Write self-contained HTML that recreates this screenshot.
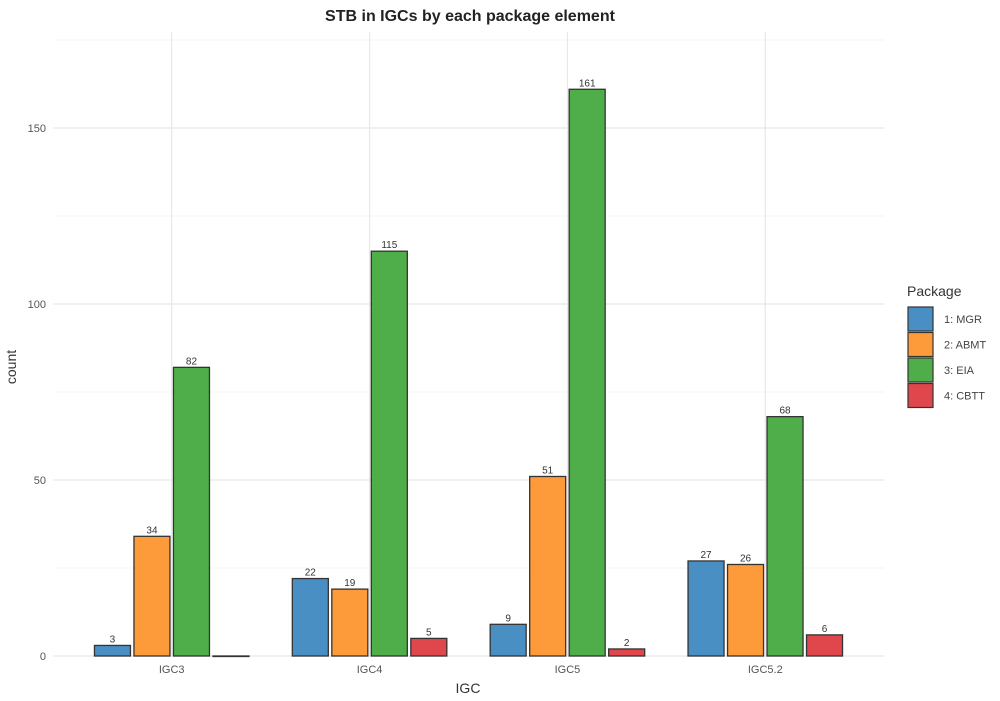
<!DOCTYPE html>
<html><head><meta charset="utf-8"><style>
body{margin:0;background:#fff;font-family:"Liberation Sans",sans-serif}
svg text{font-family:"Liberation Sans",sans-serif}
</style></head><body>
<svg id="c" width="1000" height="696" xmlns="http://www.w3.org/2000/svg">
<text x="470" y="21" text-anchor="middle" font-size="16" font-weight="bold" fill="#222">STB in IGCs by each package element</text>
<g id="grid"></g><g id="bars"></g><g id="axes"></g><g id="legend"></g>
<text x="468" y="693" text-anchor="middle" font-size="14" fill="#333">IGC</text>
<text transform="translate(16,367) rotate(-90)" text-anchor="middle" font-size="14" fill="#333">count</text>
</svg>
<script>
const categories=["IGC3","IGC4","IGC5","IGC5.2"];
const seriesNames=["1: MGR","2: ABMT","3: EIA","4: CBTT"];
const mgr=[3,22,9,27];
const abmt=[34,19,51,26];
const eia=[82,115,161,68];
const cbtt=[0,5,2,6];
const yTicks=[0,50,100,150];
const colors=["#4a8fc4","#fd9a3a","#4fae4a","#df474c"];
const series=[mgr,abmt,eia,cbtt];
const NS="http://www.w3.org/2000/svg";
const L=53,R=884,T=32,B=656;
const y=v=>B-v*3.52;
const step=(R-L)/(categories.length+0.2);
const x=i=>L+step*(0.6+i);
function mk(tag,a,p){const e=document.createElementNS(NS,tag);for(const k in a)e.setAttribute(k,a[k]);p.appendChild(e);return e;}
const g=document.getElementById('grid'),b=document.getElementById('bars'),ax=document.getElementById('axes'),lg=document.getElementById('legend');
for(let t=0;t<=175;t+=25){const ln=mk('line',{x1:L,x2:R,y1:y(t),y2:y(t),stroke:t%50?'#f3f3f3':'#e8e8e8','stroke-width':t%50?0.8:1.2},g);

}
categories.forEach((c,i)=>{const ln=mk('line',{x1:x(i),x2:x(i),y1:T,y2:B,stroke:'#e8e8e8','stroke-width':1.2},g);


const t=mk('text',{x:x(i),y:B+17,'text-anchor':'middle','font-size':11,fill:'#555'},ax);t.textContent=c;

});
yTicks.forEach(v=>{const t=mk('text',{x:46,y:y(v)+4,'text-anchor':'end','font-size':11,fill:'#555'},ax);t.textContent=v;

});
const bw=36,gap=3.5;
categories.forEach((c,i)=>{series.forEach((s,j)=>{const cx=x(i)+(j-1.5)*(bw+gap);const v=s[i];
const r=mk('rect',{x:cx-bw/2,y:y(v),width:bw,height:Math.max(B-y(v),0.5),fill:colors[j],stroke:'#333','stroke-width':1.3},b);


if(v>0){const t=mk('text',{x:cx,y:y(v)-3,'text-anchor':'middle','font-size':10,fill:'#333'},b);t.textContent=v;

}});});
const tt=mk('text',{x:907,y:296,'font-size':14,fill:'#333'},lg);tt.textContent='Package';


seriesNames.forEach((n,j)=>{const yy=307+j*25.5;
const r=mk('rect',{x:908,y:yy,width:25,height:24,fill:colors[j],stroke:'#333','stroke-width':1.2},lg);


const t=mk('text',{x:944,y:yy+16,'font-size':11,fill:'#444'},lg);t.textContent=n;

});
</script>
</body></html>
